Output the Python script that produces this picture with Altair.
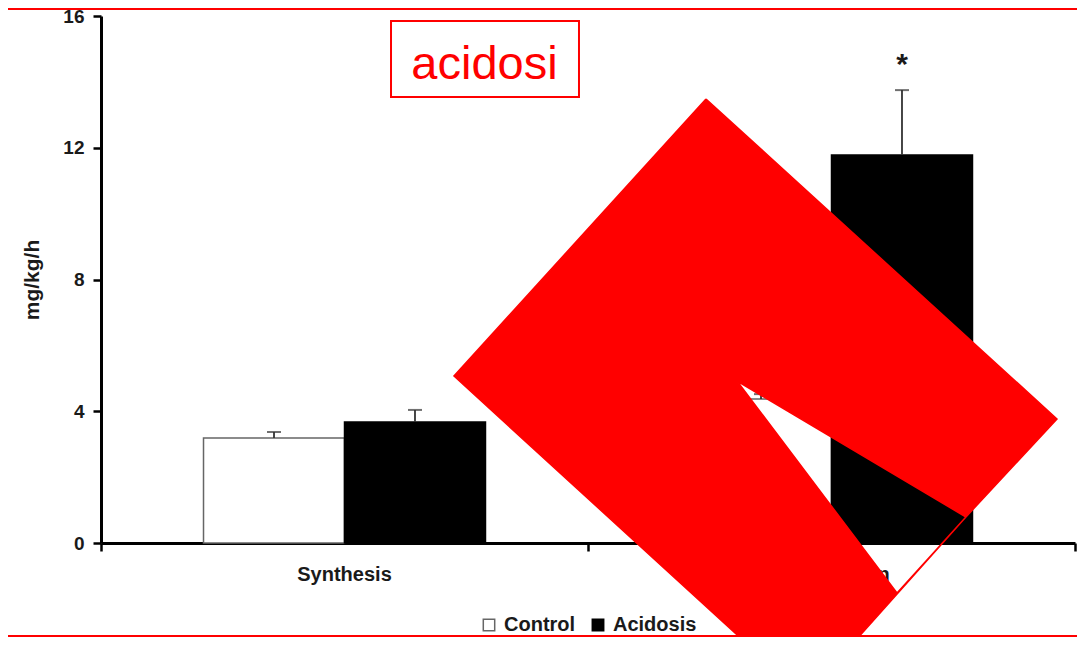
import altair as alt
import pandas as pd

# ---------------- data ----------------
processes = ["Synthesis", "Degradation"]
groups = ["Control", "Acidosis"]
control_vals = [3.19, 4.37]
acidosis_vals = [3.67, 11.78]
control_err = [0.18, 0.15]
acidosis_err = [0.37, 1.97]

star_process = ["Degradation"]
star_group = ["Acidosis"]
star_y = [14.25]
star_text = ["*"]

y_ticks = [0, 4, 8, 12, 16]
y_title = "mg/kg/h"
category_edges = [0, 1, 2]  # category boundaries, where the x ticks sit

# overlay annotation geometry: x in category-position units (0-2), y in mg/kg/h
shape_x = [1.2423, 1.963, 1.776, 1.306, 1.6345, 1.776, 1.4456, 0.7248, 1.2423]
shape_y = [13.48, 3.765, 0.789, 4.918, -1.518, 0.789, -4.675, 5.07, 13.48]

box_x = [0.5955]
box_x2 = [0.9815]
box_y = [15.85]
box_y2 = [13.54]
box_label = ["acidosi"]
box_label_x = [0.7875]
box_label_y = [14.09]

frame_y = [16.21, -2.82]
frame_x = [-0.207, -0.207]
frame_x2 = [2.02, 2.02]

# ---------------- tables ----------------
rows = []
for i, p in enumerate(processes):
    rows.append({"process": p, "group": "Control", "v": control_vals[i],
                 "top": control_vals[i] + control_err[i]})
    rows.append({"process": p, "group": "Acidosis", "v": acidosis_vals[i],
                 "top": acidosis_vals[i] + acidosis_err[i]})
bars_df = pd.DataFrame(rows)
star_df = pd.DataFrame({"process": star_process, "group": star_group,
                        "v": star_y, "t": star_text})
shape_df = pd.DataFrame({"x": shape_x, "v": shape_y, "i": list(range(len(shape_x)))})
box_df = pd.DataFrame({"x": box_x, "x2": box_x2, "v": box_y, "v2": box_y2})
label_df = pd.DataFrame({"x": box_label_x, "v": box_label_y, "t": box_label})
frame_df = pd.DataFrame({"x": frame_x, "x2": frame_x2, "v": frame_y})

FONT = "Liberation Sans"
INK = "#1a1a1a"

y_axis = alt.Axis(values=y_ticks, title=y_title, grid=False,
                  domainColor="black", domainWidth=3,
                  tickColor="black", tickWidth=2.5, tickSize=8,
                  labelFont=FONT, labelFontSize=19, labelFontWeight="bold",
                  labelColor=INK, labelPadding=9,
                  titleFont=FONT, titleFontSize=21, titleFontWeight="bold",
                  titleColor=INK, titlePadding=20)
y_scale = alt.Scale(domain=[0, 16], nice=False, zero=False)
y_enc = alt.Y("v:Q", scale=y_scale, axis=y_axis)

x_main = alt.X("process:N", sort=processes,
               scale=alt.Scale(domain=processes, paddingInner=0.421, paddingOuter=0.2105),
               axis=alt.Axis(title=None, labelAngle=0, labelFont=FONT, labelFontSize=20,
                             labelFontWeight="bold", labelColor=INK, labelPadding=21,
                             domainColor="black", domainWidth=3, ticks=False))
x_off = alt.XOffset("group:N", sort=groups,
                    scale=alt.Scale(domain=groups, paddingInner=0, paddingOuter=0))

bars = alt.Chart(bars_df).mark_bar(strokeWidth=1.5).encode(
    x=x_main, xOffset=x_off, y=y_enc,
    fill=alt.Fill("group:N", sort=groups,
                  scale=alt.Scale(domain=groups, range=["white", "black"]),
                  legend=alt.Legend(title=None, orient="none", legendX=378, legendY=599,
                                    direction="horizontal", symbolType="square",
                                    symbolSize=130, symbolStrokeColor="black",
                                    symbolStrokeWidth=1.5, labelFont=FONT,
                                    labelFontSize=20, labelFontWeight="bold",
                                    labelColor=INK, labelOffset=5, columnPadding=12)),
    stroke=alt.Stroke("group:N", sort=groups,
                      scale=alt.Scale(domain=groups, range=["#666666", "black"]),
                      legend=None),
)

err_rule = alt.Chart(bars_df).mark_rule(color="#333333", strokeWidth=1.8).encode(
    x=x_main, xOffset=x_off, y=y_enc, y2="top:Q")
err_cap = alt.Chart(bars_df).mark_tick(color="#333333", thickness=2, size=14).encode(
    x=x_main, xOffset=x_off, y=alt.Y("top:Q", scale=y_scale, axis=y_axis))
stars = alt.Chart(star_df).mark_text(fontSize=30, fontWeight="bold", font=FONT,
                                     color=INK, baseline="alphabetic").encode(
    x=x_main, xOffset=x_off, y=y_enc, text="t:N")

main = alt.layer(bars, err_rule, err_cap, stars)

x_ov = alt.X("x:Q", scale=alt.Scale(domain=[0, 2], nice=False, zero=False),
             axis=alt.Axis(values=category_edges, orient="bottom", title=None,
                           labels=False, domain=False, grid=False, ticks=True,
                           tickSize=8, tickWidth=2.5, tickColor="black"))

box = alt.Chart(box_df).mark_rect(fill="white", stroke="red", strokeWidth=2).encode(
    x=x_ov, x2="x2:Q", y=y_enc, y2="v2:Q")
box_text = alt.Chart(label_df).mark_text(color="red", fontSize=47, font=FONT,
                                         baseline="alphabetic", align="center").encode(
    x=x_ov, y=y_enc, text="t:N")
shape = alt.Chart(shape_df).mark_line(fill="red", stroke="red", strokeWidth=1.5,
                                      strokeJoin="miter", interpolate="linear").encode(
    x=x_ov, y=y_enc, order="i:Q")
frame = alt.Chart(frame_df).mark_rule(color="red", strokeWidth=2).encode(
    x=x_ov, x2="x2:Q", y=y_enc)

overlay = alt.layer(box, box_text, shape, frame)

chart = alt.layer(main, overlay).resolve_scale(x="independent").properties(
    width=974, height=527,
    autosize=alt.AutoSizeParams(type="none"),
    padding={"left": 93, "top": 8, "right": 2, "bottom": 94},
    background="white",
).configure_view(stroke=None)

chart.save("out.html", embed_options={"renderer": "svg", "actions": False})
